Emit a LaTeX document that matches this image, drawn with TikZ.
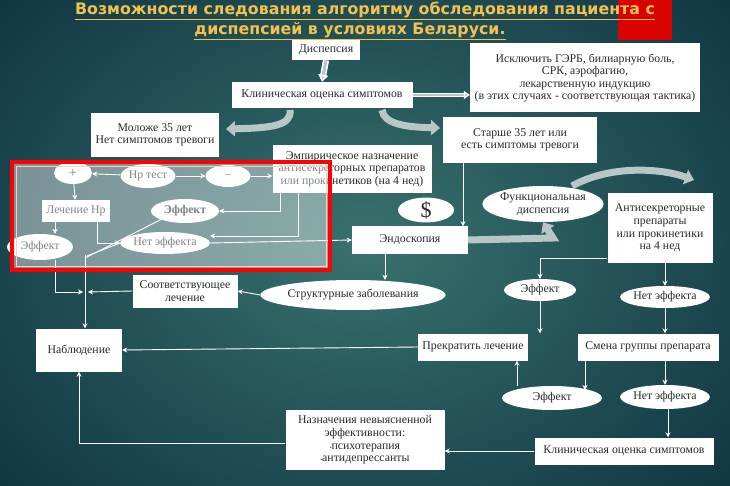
\documentclass[tikz,border=0pt]{standalone}
\usepackage{fontspec}
\setmainfont{Liberation Serif}
\newfontfamily\titlefont{DejaVu Sans}
\usetikzlibrary{arrows.meta,shapes.geometric,calc}
\definecolor{txt}{HTML}{2A2A2A}
\definecolor{ttl}{HTML}{F2C14E}
\definecolor{blk}{HTML}{B9C6C8}
\tikzset{
 bx/.style={fill=white,text=txt,font=\fontsize{11.8}{12.6}\selectfont,align=center,inner sep=1pt},
 el/.style={ellipse,fill=white,text=txt,font=\fontsize{11.8}{12.6}\selectfont,align=center,inner sep=0pt},
 ar/.style={draw=white,line width=0.9pt,-{Stealth[length=5pt,width=5pt]}},
 ln/.style={draw=white,line width=0.9pt},
 fat/.style={draw=blk,line width=7pt,-{Triangle[length=9pt,width=15pt]}},
}
\begin{document}
\begin{tikzpicture}[x=1pt,y=-1pt]
\useasboundingbox (0,0) rectangle (730,486);
\shade[inner color={rgb,255:red,56;green,114;blue,110},outer color={rgb,255:red,14;green,50;blue,64}] (-150,-150) rectangle (880,636);
\fill[red!85!black] (618,0) rectangle (672,40);
\node[text=ttl,font=\titlefont\bfseries\fontsize{15.8}{18}\selectfont] (t1) at (365,11) {\underline{Возможности следования алгоритму обследования пациента с}};
\node[text=ttl,font=\titlefont\bfseries\fontsize{15.8}{18}\selectfont] (t2) at (350,31) {\underline{диспепсией в условиях Беларуси.}};
% boxes
\node[bx,minimum width=68,minimum height=20] (disp) at (326,50) {Диспепсия};
\node[bx,minimum width=181,minimum height=26] (clin) at (322,95) {Клиническая оценка симптомов};
\node[bx,minimum width=230,minimum height=69] (excl) at (585,78) {Исключить ГЭРБ, билиарную боль,\\СРК, аэрофагию,\\лекарственную индукцию\\(в этих случаях - соответствующая тактика)};
\node[bx,minimum width=128,minimum height=44] (young) at (155,135) {Моложе 35 лет\\Нет симптомов тревоги};
\node[bx,minimum width=154,minimum height=46] (old) at (520,140) {Старше 35 лет или\\есть симптомы тревоги};
\node[bx,minimum width=159,minimum height=48] (emp) at (352,169) {Эмпирическое назначение\\антисекреторных препаратов\\или прокинетиков (на 4 нед)};
\node[el,minimum width=38,minimum height=22] (plus) at (73,173) {\Large +};
\node[el,minimum width=55,minimum height=24] (hp) at (148,176) {Hp тест};
\node[el,minimum width=45,minimum height=22] (minus) at (228,176) {--};
\node[bx,minimum width=68,minimum height=22] (lhp) at (76,211) {Лечение Hp};
\node[el,minimum width=68,minimum height=24] (ef1) at (185,211) {\bfseries Эффект};
\node[el,minimum width=66,minimum height=26] (ef0) at (40,247) {Эффект};
\node[el,minimum width=74,minimum height=22] (ne1) at (165,243) {Нет эффекта};
\node[el,minimum width=56,minimum height=22,font=\fontsize{22}{22}\selectfont] (dol) at (426,210) {\$};
\node[bx,minimum width=116,minimum height=27] (endo) at (410,240) {Эндоскопия};
\node[el,minimum width=108,minimum height=36] (func) at (543,204) {Функциональная\\диспепсия};
\node[bx,minimum width=105,minimum height=70] (anti) at (660,228) {Антисекреторные\\препараты\\или прокинетики\\на 4 нед};
\node[bx,minimum width=105,minimum height=33] (sootv) at (185,291) {Соответствующее\\лечение};
\node[el,minimum width=150,minimum height=30] (struct) at (353,295) {Структурные заболевания};
\node[el,minimum width=72,minimum height=22] (ef2) at (540,290) {Эффект};
\node[el,minimum width=82,minimum height=22] (ne2) at (665,297) {Нет эффекта};
\node[bx,minimum width=86,minimum height=43] (nab) at (79,350) {Наблюдение};
\node[bx,minimum width=110,minimum height=27] (stop) at (473,347) {Прекратить лечение};
\node[bx,minimum width=141,minimum height=27] (smena) at (648,347) {Смена группы препарата};
\node[el,minimum width=100,minimum height=24] (ef3) at (552,398) {Эффект};
\node[el,minimum width=80,minimum height=24] (ne3) at (665,397) {Нет эффекта};
\node[bx,minimum width=159,minimum height=60] (nazn) at (365,440) {Назначения невыясненной\\эффективности:\\{\tiny\textbullet}психотерапия\\{\tiny\textbullet}антидепрессанты};
\node[bx,minimum width=179,minimum height=27] (clin2) at (624,451) {Клиническая оценка симптомов};
% block arrows
\draw[draw=white,line width=1.6pt,double=blk,double distance=3pt,-{Triangle[length=7pt,width=10pt,fill=blk]}] (disp.south) -- (clin.north);
\draw[draw=white,line width=1.2pt,double=blk,double distance=2pt,-{Triangle[length=6pt,width=8pt,fill=blk]}] (clin.east) -- (excl.west |- clin.east);
\draw[fat] (290,110) .. controls (292,126) and (270,128) .. (226,129);
\draw[fat] (382,110) .. controls (384,124) and (405,127) .. (440,128);
\draw[fat] (endo.east) -- (553,238) -- (func.south);
\draw[fat] (572,186) .. controls (610,165) and (660,168) .. (694,180);
% connectors
\draw[ar] (hp) -- (plus);
\draw[ar] (hp) -- (minus);
\draw[ar] (minus) -- (emp.west |- minus);
\draw[ar] (plus) -- (lhp);
\draw[ar] (emp.south -| 280,0) -- (280,211) -- (ef1.east);
\draw[ar] (emp.south -| 298,0) -- (298,236) -- (ne1.east |- 0,236);
\draw[ar] (lhp.south -| 55,0) -- (ef0.north -| 55,0);
\draw[ar] (lhp.south -| 97,0) -- (97,243) -- (ne1.west);
\draw[ar] (ne1.east) -- (endo.west);
\draw[ln] (ef1.south west) -- (85,258);
\draw[ln] (ne1.west) -- (87,256);
\draw[ar] (85,255) -- (nab.north -| 85,0);
\draw[ar] (ef0.south -| 55,0) -- (55,292) -- (83,292);
\draw[ar] (sootv.west) -- (88,292);
\draw[ar] (struct.west) -- (sootv.east);
\draw[ar] (endo.south -| 385,0) -- (struct.north -| 385,0);
\draw[ar] (old.south -| 463,0) -- (endo.north -| 463,0);
\draw[ar] (anti.west |- 0,258) -- (540,258) -- (ef2.north);
\draw[ar] (anti.south -| ne2.north) -- (ne2.north);
\draw[ar] (ef2.south) -- (stop.north -| ef2.south);
\draw[ar] (stop.west) -- (nab.east);
\draw[ar] (ne2.south) -- (smena.north -| ne2.south);
\draw[ar] (smena.south -| 585,0) -- (585,390);
\draw[ar] (ef3.north -| 517,0) -- (stop.south -| 517,0);
\draw[ar] (smena.south -| ne3.north) -- (ne3.north);
\draw[ar] (ne3.south -| 668,0) -- (clin2.north -| 668,0);
\draw[ar] (clin2.west) -- (nazn.east |- clin2.west);
\draw[ar] (nazn.west |- 0,443) -- (79,443) -- (nab.south);
% red overlay
\fill[white,fill opacity=0.42] (12,162) rectangle (330,270);
\draw[red,line width=4pt] (12,162) rectangle (330,270);
\draw[white!80!red,line width=0.6pt] (16,166) rectangle (326,266);
\end{tikzpicture}
\end{document}
